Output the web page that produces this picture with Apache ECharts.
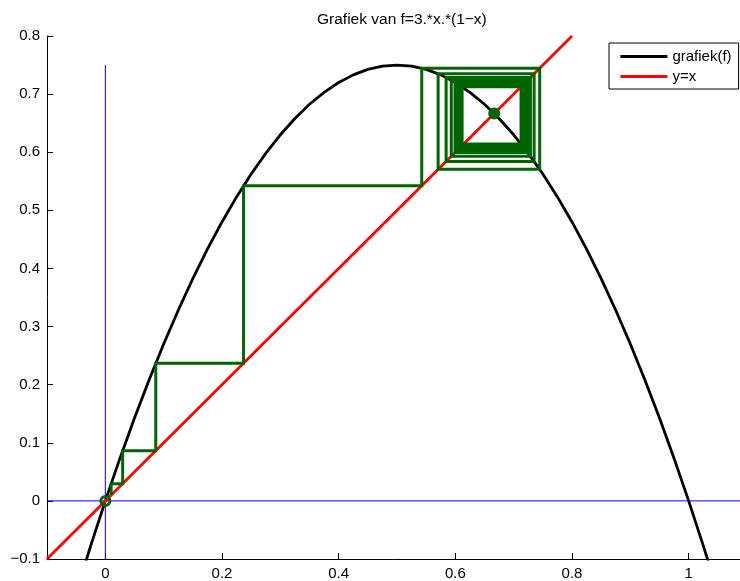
<!DOCTYPE html>
<html>
<head>
<meta charset="utf-8">
<script src="https://cdn.jsdelivr.net/npm/echarts@6/dist/echarts.min.js"></script>
<style>
  html, body { margin: 0; padding: 0; background: #fff; }
  #chart { width: 740px; height: 581px; }
</style>
</head>
<body>
<div id="chart"></div>
<script>
// Sampled points of f(x) = 3x(1-x)
const fX = [-0.05, -0.025, 0, 0.025, 0.05, 0.075, 0.1, 0.125, 0.15, 0.175, 0.2, 0.225,
  0.25, 0.275, 0.3, 0.325, 0.35, 0.375, 0.4, 0.425, 0.45, 0.475, 0.5, 0.525, 0.55,
  0.575, 0.6, 0.625, 0.65, 0.675, 0.7, 0.725, 0.75, 0.775, 0.8, 0.825, 0.85, 0.875,
  0.9, 0.925, 0.95, 0.975, 1.0, 1.025, 1.05];
const fY = [-0.1575, -0.0769, 0, 0.0731, 0.1425, 0.2081, 0.27, 0.3281, 0.3825, 0.4331,
  0.48, 0.5231, 0.5625, 0.5981, 0.63, 0.6581, 0.6825, 0.7031, 0.72, 0.7331, 0.7425,
  0.7481, 0.75, 0.7481, 0.7425, 0.7331, 0.72, 0.7031, 0.6825, 0.6581, 0.63, 0.5981,
  0.5625, 0.5231, 0.48, 0.4331, 0.3825, 0.3281, 0.27, 0.2081, 0.1425, 0.0731, 0,
  -0.0769, -0.1575];

// Diagonal y = x
const diagX = [-0.1, 0.8];

// Orbit x0, x1 = f(x0), ... used for the cobweb
const orbit = [0.01, 0.0297, 0.08645, 0.23694, 0.5424, 0.74461, 0.5705, 0.73509,
  0.5842, 0.72873, 0.59305, 0.72403, 0.59944, 0.72034, 0.60435, 0.71733, 0.6083,
  0.71481, 0.61157, 0.71266, 0.61433];

// Fixed points of f
const fixedStable = [0.6667, 0.6667];
const fixedZero = [0, 0];

// Reference lines (x-axis and y-axis through the origin)
const hLineX = [-0.1, 1.1];
const vLineY = [-0.1, 0.75];

const xTicks = [0, 0.2, 0.4, 0.6, 0.8, 1];

const GREEN = '#006400';
const FONT = 'Liberation Sans, Arial, Helvetica, sans-serif';

// Build the cobweb path: (x0,x0) -> (x0,x1) -> (x1,x1) -> (x1,x2) -> ...
const cobweb = [[orbit[0], orbit[0]]];
for (let i = 0; i < orbit.length - 1; i++) {
  cobweb.push([orbit[i], orbit[i + 1]]);
  cobweb.push([orbit[i + 1], orbit[i + 1]]);
}

const minus = v => String(v).replace('-', '\u2212');

const chart = echarts.init(document.getElementById('chart'), null, { renderer: 'canvas' });
chart.setOption({
  animation: false,
  backgroundColor: '#fff',
  title: {
    text: 'Grafiek van f=3.*x.*(1\u2212x)',
    left: 312,
    top: 7,
    textStyle: { fontFamily: FONT, fontSize: 15.5, fontWeight: 'normal', color: '#000' }
  },
  legend: {
    data: ['grafiek(f)', 'y=x'],
    orient: 'vertical',
    left: 609,
    top: 43,
    padding: [6, 7, 5, 10],
    itemWidth: 47,
    itemHeight: 14,
    itemGap: 5,
    borderColor: '#000',
    borderWidth: 1,
    backgroundColor: '#fff',
    itemStyle: { opacity: 0, borderWidth: 0 },
    lineStyle: { width: 2.8 },
    textStyle: { fontFamily: FONT, fontSize: 15, color: '#000' }
  },
  grid: { left: 47, right: -7, top: 36, bottom: 22, outerBoundsMode: 'none' },
  xAxis: {
    type: 'value',
    min: -0.1,
    max: 1.1,
    splitLine: { show: false },
    axisLine: { onZero: false, lineStyle: { color: '#000', width: 1 } },
    axisTick: { inside: true, length: 6, customValues: xTicks, lineStyle: { color: '#000' } },
    axisLabel: {
      customValues: xTicks, margin: 7, color: '#000',
      fontFamily: FONT, fontSize: 15, formatter: minus
    }
  },
  yAxis: {
    type: 'value',
    min: -0.1,
    max: 0.8,
    interval: 0.1,
    splitLine: { show: false },
    axisLine: { onZero: false, lineStyle: { color: '#000', width: 1 } },
    axisTick: { inside: true, length: 6, lineStyle: { color: '#000' } },
    axisLabel: { margin: 7, color: '#000', fontFamily: FONT, fontSize: 15, formatter: minus }
  },
  series: [
    {
      type: 'line', symbol: 'none', silent: true,
      data: hLineX.map(x => [x, 0]),
      lineStyle: { color: '#0000ff', width: 1 }
    },
    {
      type: 'line', symbol: 'none', silent: true,
      data: vLineY.map(y => [0, y]),
      lineStyle: { color: '#0000cc', width: 1 }
    },
    {
      name: 'grafiek(f)', type: 'line', symbol: 'none', silent: true,
      data: fX.map((x, i) => [x, fY[i]]),
      lineStyle: { color: '#000', width: 2.8 },
      itemStyle: { color: '#000' }
    },
    {
      name: 'y=x', type: 'line', symbol: 'none', silent: true,
      data: diagX.map(x => [x, x]),
      lineStyle: { color: '#ff0000', width: 2.8 },
      itemStyle: { color: '#ff0000' }
    },
    {
      type: 'line', symbol: 'none', silent: true,
      data: cobweb,
      lineStyle: { color: GREEN, width: 3, join: 'miter' }
    },
    {
      type: 'scatter', silent: true, z: 10,
      data: [fixedZero],
      symbol: 'circle', symbolSize: 9,
      itemStyle: { color: 'rgba(0,0,0,0)', borderColor: GREEN, borderWidth: 3, opacity: 1 }
    },
    {
      type: 'scatter', silent: true, z: 10,
      data: [fixedStable],
      symbol: 'circle', symbolSize: 12,
      itemStyle: { color: GREEN, opacity: 1 }
    }
  ]
});
</script>
</body>
</html>
